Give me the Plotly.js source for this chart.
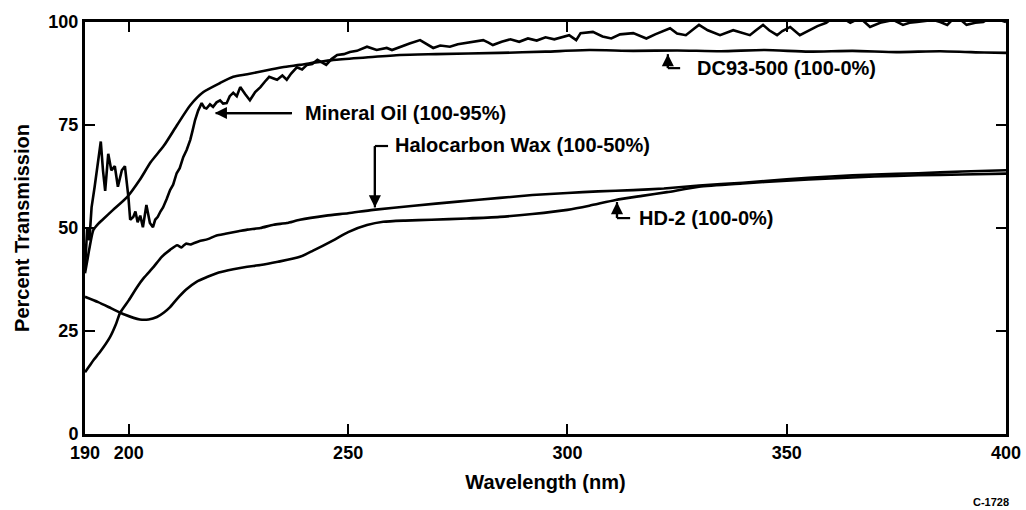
<!DOCTYPE html>
<html>
<head>
<meta charset="utf-8">
<script src="https://cdn.plot.ly/plotly-3.0.1.min.js"></script>
<style>
  html, body { margin: 0; padding: 0; background: #ffffff; }
  #chart { width: 1026px; height: 510px; }
</style>
</head>
<body>
<div id="chart"></div>
<script>
// ---- Data ----
const xTickVals = [190, 200, 250, 300, 350, 400];
const yTickVals = [0, 25, 50, 75, 100];

const mineralOilWl = [190, 190.5, 191, 191.5, 192.2, 193, 193.6, 194.1, 194.6, 195.3, 196, 196.8, 197.5, 198.4, 199.1, 199.9, 200.3, 201, 201.5, 202, 202.6, 203.2, 204, 204.8, 205.5, 206, 206.6, 207.2, 207.8, 208.6, 209.4, 210.1, 210.9, 211.6, 212.4, 213.2, 214, 214.5, 215.1, 215.8, 216.6, 217.2, 217.7, 218.5, 219.2, 220, 220.8, 221.5, 222.3, 223, 223.8, 224.6, 225.4, 226.5, 227.6, 228.8, 230, 231, 232, 233, 233.8, 235, 236, 237, 238.3, 239.5, 240.6, 241.8, 243, 244, 245, 246.2, 247.5, 249, 250.4, 252, 254.3, 256.5, 258.8, 260, 261.8, 264, 266.4, 268, 269.4, 271, 273.2, 275, 277, 279, 280.8, 282, 283, 285, 287, 289, 291, 293, 295, 297, 299, 300.4, 302, 303, 305.8, 308, 310, 312, 315, 318, 320, 323.4, 325, 327, 329, 330, 332, 334.8, 337.8, 339.5, 341.6, 343, 344.6, 346, 347.8, 349, 350.8, 353, 355.3, 357, 359, 360.5, 362, 363, 364.5, 366.7, 368, 369, 371.3, 373, 374.3, 376.5, 378, 379.7, 381.5, 383.4, 385, 386.6, 388, 388.9, 390, 391, 393, 394.8, 396, 397, 398.5, 400];
const mineralOilT  = [40, 50, 47, 55, 60, 66, 71, 64, 59, 68, 64, 65, 60, 64, 65, 57.5, 52, 52.7, 54, 51.4, 53, 50.2, 55.6, 51.2, 50.2, 52, 52.7, 54, 55, 57, 59.2, 60.5, 63.3, 64.5, 67.2, 69, 71.4, 73.5, 76.2, 78.5, 80.3, 79.2, 79, 80, 79.4, 80.5, 81, 80.2, 80.3, 82, 82.8, 82, 84.2, 82.5, 81, 83, 84.2, 85.5, 86.7, 86.3, 86, 87, 86, 87.5, 89, 88.5, 89.6, 89.8, 90.8, 90.2, 89.6, 91, 92, 92.2, 92.7, 93, 94, 93.2, 93.7, 93.2, 94, 94.8, 95.6, 94.5, 93.7, 94.3, 94, 94.6, 94.9, 95.2, 95.6, 95, 94.4, 95.2, 95.8, 95.2, 96, 95.5, 96.3, 95.8, 96.5, 96.8, 95.6, 97.3, 97.6, 96.5, 96, 97, 97.3, 96, 97, 98.5, 97.2, 96.8, 98.5, 99.3, 98, 96.8, 98, 97.5, 96.8, 98, 99.3, 98, 96.8, 97.8, 98.8, 96.8, 98, 99, 99.8, 101, 102.2, 100.8, 99.8, 101, 99.8, 98.8, 99.8, 100.3, 100.5, 99.3, 99.8, 100, 100.3, 100.5, 100, 99.3, 100.8, 101.7, 100.2, 99.3, 99.8, 100, 100.8, 101.7, 100.5, 100];

const dc93Wl = [190, 190.5, 191, 191.9, 193, 194, 196.4, 199.6, 202.5, 205, 208, 211, 214, 217, 220.8, 223.8, 227, 231.5, 235, 239, 246.6, 254, 261.8, 270, 284.6, 295, 305, 315, 325, 335, 345, 355, 365, 375, 385, 395, 400];
const dc93T  = [39, 42, 45, 49.5, 51, 52, 54.4, 57.5, 61.7, 66, 70, 75, 79.8, 83, 85.2, 86.7, 87.3, 88.3, 89, 89.6, 90.8, 91.4, 92, 92.2, 92.5, 92.8, 93.2, 93, 93.1, 92.9, 93.2, 92.8, 93, 92.7, 92.9, 92.6, 92.5];

const haloWl = [190, 191, 192, 193.5, 195.7, 197, 198, 200, 201.9, 203.5, 205.6, 207.5, 209.4, 211, 212, 213, 214, 216, 218, 220, 222, 225, 227, 230, 233, 236, 239, 245, 250, 255.7, 265, 275, 284.6, 292, 300, 307, 315, 322, 330, 340, 350, 360, 370, 380, 390, 400];
const haloT  = [15, 16.5, 18, 20, 23.5, 26.5, 29.4, 32.5, 35.7, 38, 40.5, 43, 44.7, 45.8, 45.3, 46.2, 46, 46.8, 47.3, 48.2, 48.6, 49.2, 49.6, 50, 50.8, 51.2, 52, 53, 53.6, 54.4, 55.4, 56.4, 57.3, 58, 58.5, 58.9, 59.2, 59.6, 60.3, 61, 61.8, 62.5, 63, 63.3, 63.7, 64];

const hd2Wl = [190, 193, 196, 199, 202.5, 204.5, 206.4, 208, 209.4, 211, 213, 215.5, 217.8, 220.5, 223.8, 227, 230, 234, 239, 242, 246.6, 250, 254.3, 258, 263, 269, 277, 284.6, 292, 300, 305, 311, 317, 322.7, 330, 340, 350, 360, 370, 380, 390, 400];
const hd2T  = [33.3, 32, 30.5, 29, 27.8, 27.8, 28.4, 29.5, 30.8, 32.8, 35, 37, 38.1, 39.2, 40, 40.6, 41, 41.8, 43, 44.5, 47, 49, 50.7, 51.5, 51.8, 52, 52.3, 52.7, 53.4, 54.4, 55.4, 56.8, 57.8, 58.7, 60, 60.8, 61.5, 62, 62.5, 62.8, 63, 63.2];

const seriesNames = ["Mineral Oil (100-95%)", "DC93-500 (100-0%)", "Halocarbon Wax (100-50%)", "HD-2 (100-0%)"];

// ---- Chart ----
const FONT = "Liberation Sans, Arial, Helvetica, sans-serif";
const smoothLine = { color: "#000", width: 2.6, shape: "spline", smoothing: 0.6 };

const traces = [
  { x: mineralOilWl, y: mineralOilT, name: seriesNames[0], line: { color: "#000", width: 2.6, shape: "linear" } },
  { x: dc93Wl, y: dc93T, name: seriesNames[1], line: smoothLine },
  { x: haloWl, y: haloT, name: seriesNames[2], line: smoothLine },
  { x: hd2Wl, y: hd2T, name: seriesNames[3], line: smoothLine }
].map(t => Object.assign({ type: "scatter", mode: "lines", hoverinfo: "skip" }, t));

const labelFont = { family: FONT, size: 20, color: "#000" };
const bracketLine = { color: "#000", width: 2.2 };

// arrow tip, bracket corner, end of horizontal leg, text anchor (data coordinates)
const callouts = [
  { text: seriesNames[1], tip: [322.9, 92.2], corner: [322.9, 88.8], end: 325.7, label: [329.1, 88.8] },
  { text: seriesNames[2], tip: [256.1, 55.0], corner: [256.1, 69.9], end: 259.1, label: [260.2, 70.2] },
  { text: seriesNames[3], tip: [311.3, 56.3], corner: [311.3, 52.4], end: 314.3, label: [315.9, 52.4] }
];

const annotations = [];
const shapes = [];
function arrowHead(tip, tail) {
  return {
    x: tip[0], y: tip[1], xref: "x", yref: "y",
    ax: tail[0], ay: tail[1], axref: "x", ayref: "y",
    text: "", font: { size: 1 }, borderpad: 0, standoff: 0, startstandoff: 0,
    showarrow: true, arrowhead: 2, arrowsize: 1.1, arrowwidth: 2.2, arrowcolor: "#000"
  };
}
callouts.forEach(c => {
  shapes.push({ type: "line", xref: "x", yref: "y", x0: c.corner[0], y0: c.corner[1], x1: c.tip[0], y1: c.tip[1], line: bracketLine });
  shapes.push({ type: "line", xref: "x", yref: "y", x0: c.corner[0], y0: c.corner[1], x1: c.end, y1: c.corner[1], line: bracketLine });
  annotations.push(arrowHead(c.tip, c.corner));
  annotations.push({
    x: c.label[0], y: c.label[1], xref: "x", yref: "y", xanchor: "left", yanchor: "middle",
    text: "<b>" + c.text + "</b>", showarrow: false, font: labelFont
  });
});

// Mineral oil: straight arrow pointing left
shapes.push({ type: "line", xref: "x", yref: "y", x0: 237.2, y0: 77.9, x1: 219.8, y1: 77.9, line: bracketLine });
annotations.push(arrowHead([219.6, 77.9], [237.2, 77.9]));
annotations.push({
  x: 239.7, y: 77.9, xref: "x", yref: "y", xanchor: "left", yanchor: "middle",
  text: "<b>" + seriesNames[0] + "</b>", showarrow: false, font: labelFont
});

// figure code
annotations.push({
  x: 1.005, y: -0.165, xref: "paper", yref: "paper", xanchor: "right", yanchor: "middle",
  text: "<b>C-1728</b>", showarrow: false, font: { family: FONT, size: 11, color: "#000" }
});

const axisCommon = {
  showline: true, linecolor: "#000", linewidth: 3, mirror: "ticks",
  ticks: "inside", ticklen: 10, tickwidth: 2, tickcolor: "#000",
  showgrid: false, zeroline: false, fixedrange: true,
  tickfont: { family: FONT, size: 18, color: "#000" }
};

const layout = {
  width: 1026, height: 510,
  margin: { l: 85, r: 20, t: 22, b: 76 },
  paper_bgcolor: "#fff", plot_bgcolor: "#fff",
  showlegend: false,
  hovermode: false,
  xaxis: Object.assign({}, axisCommon, {
    range: [190, 400], tickmode: "array", tickvals: xTickVals,
    ticktext: xTickVals.map(v => "<b>" + v + "</b>"),
    title: { text: "<b>Wavelength (nm)</b>", font: { family: FONT, size: 20, color: "#000" }, standoff: 14 }
  }),
  yaxis: Object.assign({}, axisCommon, {
    range: [0, 100], tickmode: "array", tickvals: yTickVals,
    ticktext: yTickVals.map(v => "<b>" + v + "</b>"),
    title: { text: "<b>Percent Transmission</b>", font: { family: FONT, size: 20, color: "#000" }, standoff: 14 }
  }),
  annotations: annotations,
  shapes: shapes
};

Plotly.newPlot("chart", traces, layout, { displayModeBar: false, staticPlot: true });
</script>
</body>
</html>
